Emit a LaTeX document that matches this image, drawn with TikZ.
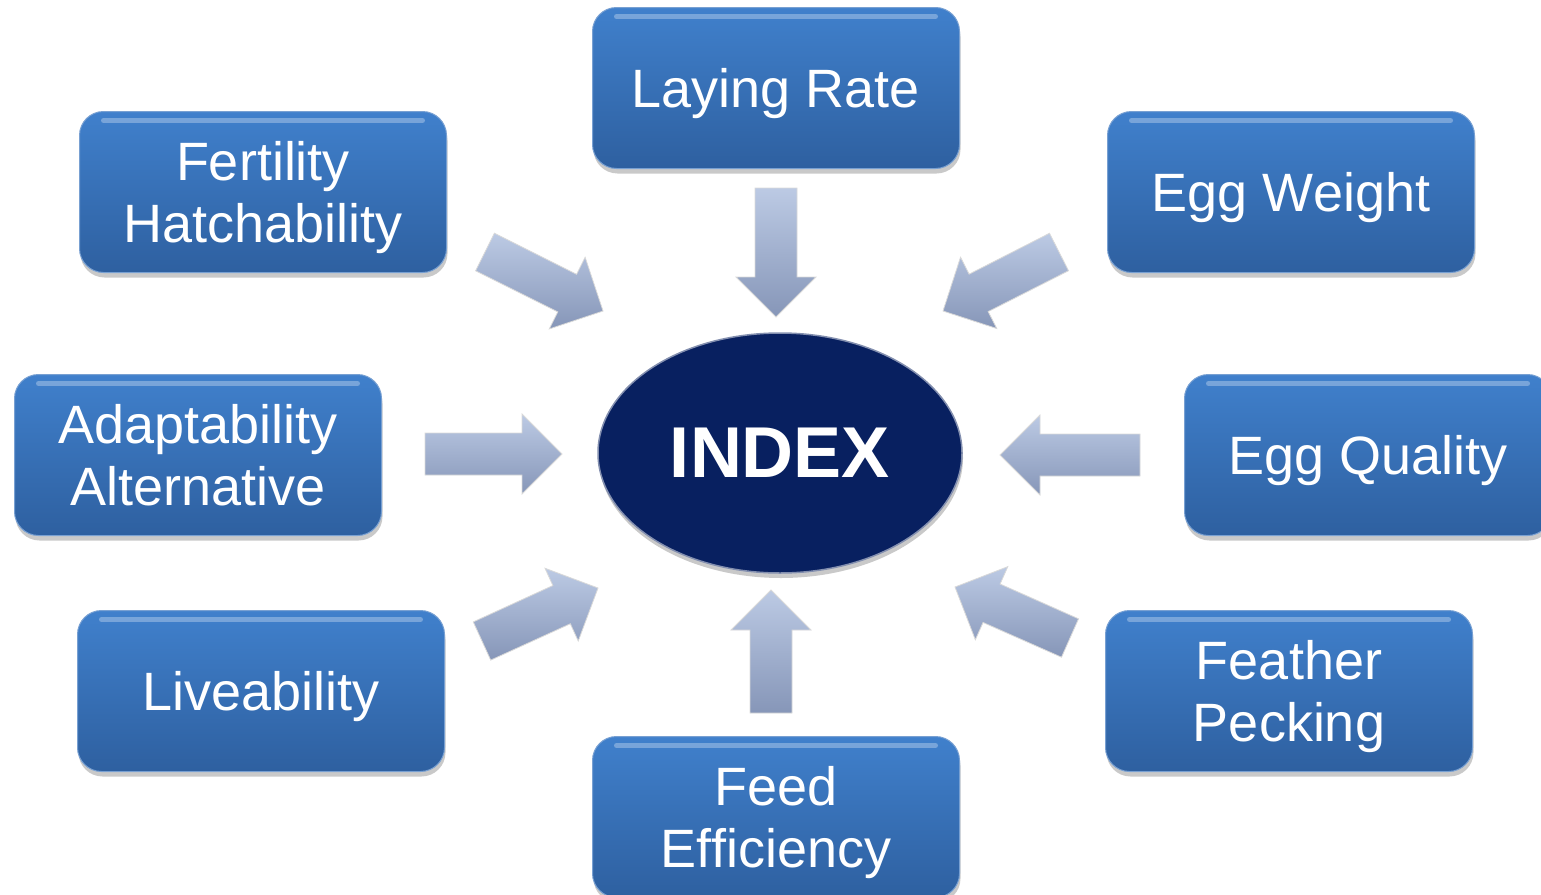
\documentclass[tikz,border=0pt]{standalone}
\usepackage{fontspec}
\setmainfont{Liberation Sans}
\usetikzlibrary{calc,shadows,shapes.geometric}

\definecolor{boxtop}{RGB}{64,128,204}
\definecolor{boxbot}{RGB}{46,96,160}
\definecolor{boxrim}{RGB}{120,160,210}
\definecolor{navy}{RGB}{8,32,96}
\definecolor{arrtop}{RGB}{188,202,228}
\definecolor{arrbot}{RGB}{134,150,184}

\tikzset{
  factor/.style={rectangle, rounded corners=24pt, minimum width=367pt, minimum height=161pt,
    top color=boxtop, bottom color=boxbot, draw=boxrim, line width=1pt,
    text=white, align=center, text depth=0pt, font=\fontsize{54}{62}\selectfont,
    drop shadow={shadow xshift=1pt, shadow yshift=-5pt, opacity=.3, fill=black!70},
    path picture={\draw[white, opacity=.3, line width=5pt, line cap=round]
      ([xshift=24pt,yshift=-9pt]path picture bounding box.north west) --
      ([xshift=-24pt,yshift=-9pt]path picture bounding box.north east);}},
  core/.style={ellipse, minimum width=364pt, minimum height=240pt, fill=navy,
    draw=navy!50!white, line width=1.5pt, text=white,
    font=\fontsize{72}{80}\selectfont\bfseries,
    drop shadow={shadow xshift=1pt, shadow yshift=-5pt, opacity=.3, fill=black!70}},
  bigarrow/.style={top color=arrtop, bottom color=arrbot, draw=white!70!gray, line width=.8pt}
}

% block arrow from tail #1 to tip #2
\newcommand{\blockarrow}[2]{%
  \coordinate (neck) at ($(#2)!40pt!(#1)$);
  \path[bigarrow] ($(#1)!21pt!90:(#2)$) -- ($(neck)!21pt!90:(#2)$)
    -- ($(neck)!40pt!90:(#2)$) -- (#2) -- ($(neck)!40pt!-90:(#2)$)
    -- ($(neck)!21pt!-90:(#2)$) -- ($(#1)!21pt!-90:(#2)$) -- cycle;}

\begin{document}
\begin{tikzpicture}[x=1pt,y=-1pt]
\useasboundingbox (0,0) rectangle (1541,894);

% arrow ends
\coordinate (tLay) at (776,188);   \coordinate (hLay) at (776,317);
\coordinate (tFert) at (485,252);  \coordinate (hFert) at (603,311);
\coordinate (tEggW) at (1059,252); \coordinate (hEggW) at (943,311);
\coordinate (tAdapt) at (425,454); \coordinate (hAdapt) at (562,454);
\coordinate (tEggQ) at (1140,455); \coordinate (hEggQ) at (1000,455);
\coordinate (tLive) at (482,641);  \coordinate (hLive) at (598,588);
\coordinate (tFeath) at (1070,638);\coordinate (hFeath) at (955,587);
\coordinate (tFeed) at (771,713);  \coordinate (hFeed) at (771,590);

\foreach \t/\h in {tLay/hLay,tFert/hFert,tEggW/hEggW,tAdapt/hAdapt,
                   tEggQ/hEggQ,tLive/hLive,tFeath/hFeath,tFeed/hFeed}
  \blockarrow{\t}{\h};

\node[factor] (lay) at (776,88) {Laying Rate};
\node[factor] (fert) at (263,192) {Fertility\\Hatchability};
\node[factor] (eggw) at (1291,192) {Egg Weight};
\node[factor] (adapt) at (198,455) {Adaptability\\Alternative};
\node[factor] (eggq) at (1368,455) {Egg Quality};
\node[factor] (live) at (261,691) {Liveability};
\node[factor] (feath) at (1289,691) {Feather\\Pecking};
\node[factor] (feed) at (776,817) {Feed\\Efficiency};

\node[core] (index) at (780,453) {INDEX};

\end{tikzpicture}
\end{document}
